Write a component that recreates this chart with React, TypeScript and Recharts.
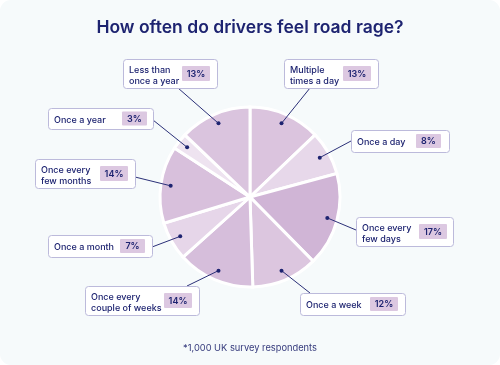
import { PieChart, Pie, Cell } from 'recharts';

const categories = [
  'Multiple times a day',
  'Once a day',
  'Once every few days',
  'Once a week',
  'Once every couple of weeks',
  'Once a month',
  'Once every few months',
  'Once a year',
  'Less than once a year',
];
const labelLines = [
  ['Multiple', 'times a day'],
  ['Once a day'],
  ['Once every', 'few days'],
  ['Once a week'],
  ['Once every', 'couple of weeks'],
  ['Once a month'],
  ['Once every', 'few months'],
  ['Once a year'],
  ['Less than', 'once a year'],
];
const shares = [13, 8, 17, 12, 14, 7, 14, 3, 13];
const sliceColors = [
  '#dbc4de',
  '#e7d8ea',
  '#d0b5d6',
  '#dcc6df',
  '#d6bedb',
  '#e6d6e9',
  '#d8c0dc',
  '#eee3f0',
  '#dac4de',
];

const data = categories.map((name, i) => ({ name, value: shares[i] }));

// where each callout box sits (chart pixels) and where its leader line meets it
const boxes = [
  { x: 284, y: 59, w: 94, h: 29, px: 343, ax: 310, ay: 88 },
  { x: 351, y: 130, w: 98, h: 22, px: 416, ax: 351, ay: 141 },
  { x: 356, y: 217, w: 97, h: 29, px: 419, ax: 356, ay: 230 },
  { x: 300, y: 293, w: 105, h: 22, px: 370, ax: 310, ay: 293 },
  { x: 85, y: 286, w: 114, h: 29, px: 164, ax: 187, ay: 286 },
  { x: 48, y: 235, w: 104, h: 22, px: 120, ax: 152, ay: 247 },
  { x: 35, y: 159, w: 100, h: 29, px: 100, ax: 135, ay: 177 },
  { x: 48, y: 108, w: 105, h: 21, px: 122, ax: 153, ay: 120 },
  { x: 123, y: 59, w: 94, h: 29, px: 182, ax: 178, ay: 88 },
];

const NAVY = '#1d2370';
const RADIAN = Math.PI / 180;
const FONT = 'Inter, "Open Sans", sans-serif';

const renderCallout = (props: any) => {
  const { cx, cy, midAngle, outerRadius, index, value } = props;
  const b = boxes[index];
  const r = outerRadius * 0.89;
  const dx = cx + r * Math.cos(-midAngle * RADIAN);
  const dy = cy + r * Math.sin(-midAngle * RADIAN);
  const lines = labelLines[index];
  const two = lines.length > 1;
  const pw = value < 10 ? 25 : 28;
  const ph = two ? 15 : 14;
  const py = b.y + (b.h - ph) / 2;
  return (
    <g key={`callout-${index}`}>
      <line x1={dx} y1={dy} x2={b.ax} y2={b.ay} stroke="#2b3078" strokeWidth={1} />
      <circle cx={dx} cy={dy} r={2} fill={NAVY} />
      <rect x={b.x + 0.5} y={b.y + 0.5} width={b.w} height={b.h} rx={3} fill="#ffffff" stroke="#bcbadb" strokeWidth={1} />
      {lines.map((t, k) => (
        <text
          key={k}
          x={b.x + 6}
          y={two ? b.y + 13.5 + k * 11 : b.y + 14.5}
          fill={NAVY}
          fontSize={9}
          fontWeight={500}
          fontFamily={FONT}
        >
          {t}
        </text>
      ))}
      <rect x={b.px} y={py} width={pw} height={ph} rx={1} fill="#dcc8e1" />
      <text
        x={b.px + pw / 2}
        y={py + ph / 2 + 3.3}
        textAnchor="middle"
        fill={NAVY}
        fontSize={9}
        fontWeight={600}
        fontFamily={FONT}
      >
        {`${value}%`}
      </text>
    </g>
  );
};

export default function App() {
  return (
    <div
      style={{
        position: 'fixed',
        left: 0,
        top: 0,
        width: 500,
        height: 365,
        background: '#f6fafb',
        borderRadius: 11,
        overflow: 'hidden',
        fontFamily: FONT,
      }}
    >
      <div
        style={{
          position: 'absolute',
          top: 16,
          left: 0,
          width: 500,
          textAlign: 'center',
          fontSize: 17.5,
          fontWeight: 600,
          color: NAVY,
        }}
      >
        How often do drivers feel road rage?
      </div>
      <div style={{ position: 'absolute', left: 0, top: 0 }}>
        <PieChart width={500} height={365} margin={{ top: 0, right: 0, bottom: 0, left: 0 }}>
          <Pie
            data={data}
            dataKey="value"
            nameKey="name"
            cx={250}
            cy={197}
            outerRadius={90}
            startAngle={90}
            endAngle={-270}
            stroke="#ffffff"
            strokeWidth={3}
            label={renderCallout}
            labelLine={false}
            isAnimationActive={false}
          >
            {data.map((d, i) => (
              <Cell key={d.name} fill={sliceColors[i]} />
            ))}
          </Pie>
        </PieChart>
      </div>
      <div
        style={{
          position: 'absolute',
          top: 342,
          left: 0,
          width: 500,
          textAlign: 'center',
          fontSize: 9.3,
          color: '#353a7c',
        }}
      >
        *1,000 UK survey respondents
      </div>
    </div>
  );
}
